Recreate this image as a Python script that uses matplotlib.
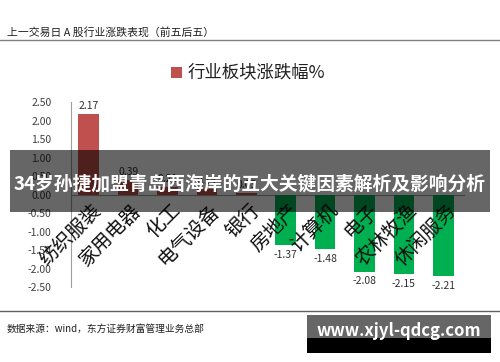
import numpy as np
import matplotlib
matplotlib.use("Agg")
import matplotlib.pyplot as plt
from matplotlib.patches import Rectangle

plt.rcParams['font.family'] = ['Noto Sans CJK SC', 'DejaVu Sans']

# 行业涨跌幅数据（前五后五）
industries = ['纺织服装', '家用电器', '化工', '电气设备', '银行',
              '房地产', '计算机', '电子', '农林牧渔', '休闲服务']
changes = [2.17, 0.39, 0.21, 0.14, 0.05, -1.37, -1.48, -2.08, -2.15, -2.21]
y_ticks = [2.5, 2.0, 1.5, 1.0, 0.5, 0.0, -0.5, -1.0, -1.5, -2.0, -2.5]

RED = '#C0504D'
GREEN = '#00B050'

fig = plt.figure(figsize=(5, 3.62), dpi=100)
ax = fig.add_axes([0.142, 0.207, 0.788, 0.511])

x = np.arange(len(industries))
colors = [RED if v >= 0 else GREEN for v in changes]
bars = ax.bar(x, changes, width=0.52, color=colors, zorder=2)

# 数据标签
for xi, v in zip(x, changes):
    if v >= 0:
        ax.text(xi, v + 0.08, f"{v:.2f}", ha='center', va='bottom', fontsize=7.5, color='#303030')
    else:
        ax.text(xi, v - 0.12, f"{v:.2f}", ha='center', va='top', fontsize=7.5, color='#303030')

# 类别标签（45度倾斜）
for xi, name in zip(x, industries):
    ax.text(xi + 0.25, -0.35, name, ha='right', va='center', rotation=45,
            rotation_mode='anchor', fontsize=14, color='#101010', zorder=3)

ax.set_xlim(-0.45, len(industries) - 0.45)
ax.set_ylim(-2.5, 2.5)
ax.set_yticks(y_ticks)
ax.set_yticklabels([f"{t:.2f}" for t in y_ticks], fontsize=7.5, color='#404040')
ax.set_xticks([])
ax.tick_params(axis='y', length=0, pad=14)
ax.axhline(0, color='#A0A0A0', lw=0.8, zorder=1)
for s in ['top', 'right', 'bottom']:
    ax.spines[s].set_visible(False)
ax.spines['left'].set_color('#A0A0A0')
ax.spines['left'].set_linewidth(0.8)

# 图例
fig.add_artist(Rectangle((0.342, 0.785), 0.022, 0.03, transform=fig.transFigure,
                         color=RED, lw=0))
fig.text(0.375, 0.8, '行业板块涨跌幅%', fontsize=12.5, va='center', ha='left', color='#202020')

# 顶部标题和分隔线
fig.text(0.014, 0.912, '上一交易日 A 股行业涨跌表现（前五后五）', fontsize=7.8, va='center', color='#202020')
fig.add_artist(plt.Line2D([0, 1], [0.889, 0.889], transform=fig.transFigure, color='#808080', lw=1))

# 底部分隔线和来源
fig.add_artist(plt.Line2D([0, 1], [0.141, 0.141], transform=fig.transFigure, color='#606060', lw=1))
fig.text(0.014, 0.091, '数据来源：wind，东方证券财富管理业务总部', fontsize=7, va='center', color='#202020')

# 横幅覆盖
fig.add_artist(Rectangle((0.02, 0.414), 0.96, 0.172, transform=fig.transFigure,
                         color='black', alpha=0.6, lw=0, zorder=10))
fig.text(0.5, 0.492, '34岁孙捷加盟青岛西海岸的五大关键因素解析及影响分析', fontsize=13.5,
         fontweight='bold', color='white', ha='center', va='center', zorder=11)

# 网址水印
fig.add_artist(Rectangle((0.614, 0.064), 0.368, 0.066, transform=fig.transFigure,
                         color='#666666', lw=0, zorder=10))
fig.add_artist(Rectangle((0.614, 0.025), 0.368, 0.04, transform=fig.transFigure,
                         color='black', lw=0, zorder=10))
fig.text(0.798, 0.085, 'www.xjyl-qdcg.com', fontsize=12, fontweight='bold', color='white',
         ha='center', va='center', zorder=11)

fig.savefig('out.png', dpi=100)
